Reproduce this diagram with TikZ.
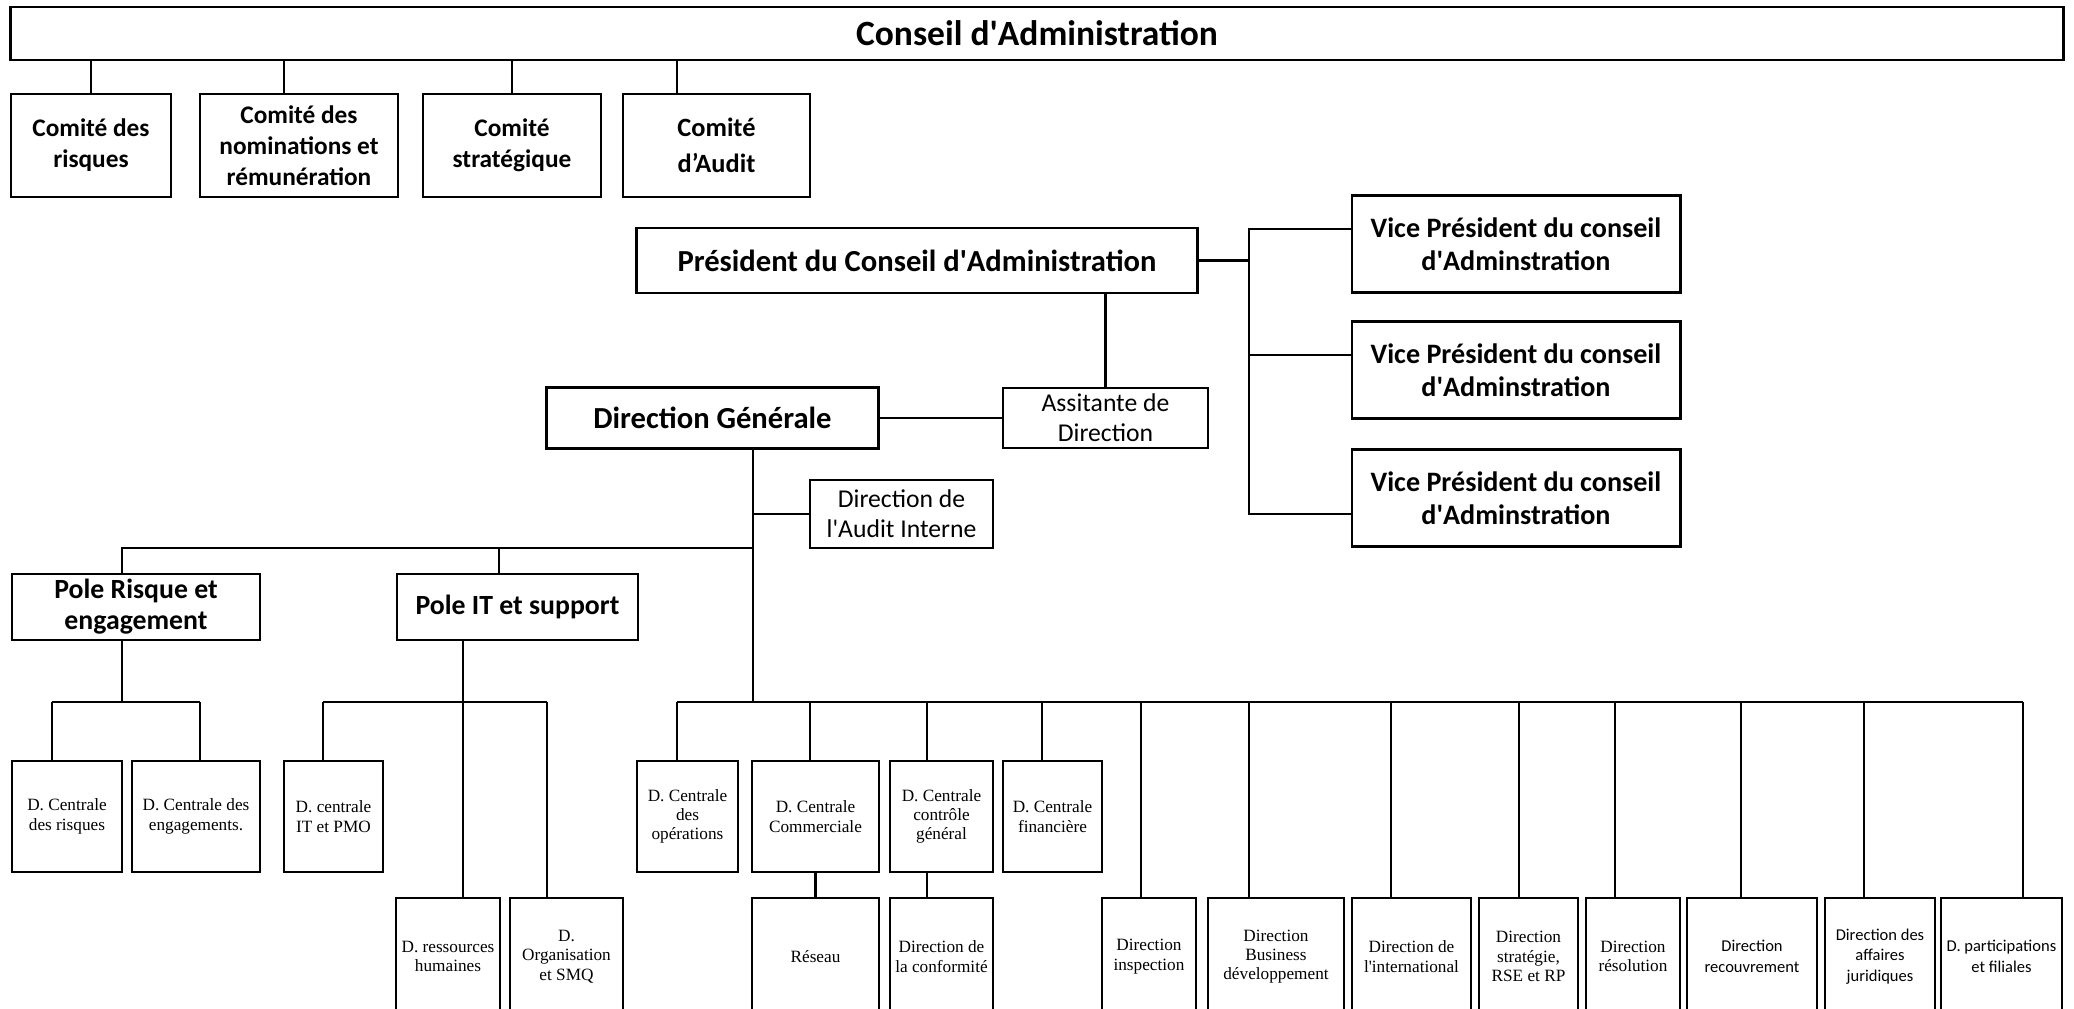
\documentclass[tikz,border=0pt]{standalone}
\usepackage{fontspec}
\setmainfont{Carlito}
\newfontfamily\serifbox{Liberation Serif}
\newcommand\rowser{\serifbox\fontsize{4.9}{5.5}\selectfont}
\newcommand\rowsans{\fontsize{4.7}{5.9}\selectfont}
\newcommand\ap{\textquotesingle}

\tikzset{
    box/.style={draw, line width=0.8pt, align=center, inner sep=0.5pt},
    sz/.style 2 args={minimum width=#1mm, minimum height=#2mm},
    lnk/.style={line width=0.65pt},
    tcons/.style={font=\bfseries\fontsize{10.1}{12}\selectfont},
    tpres/.style={font=\bfseries\fontsize{8.7}{10}\selectfont},
    tvp/.style={font=\bfseries\fontsize{8}{9.4}\selectfont},
    tpole/.style={font=\bfseries\fontsize{7.9}{8.8}\selectfont},
    tcom/.style={font=\bfseries\fontsize{7.2}{8.8}\selectfont},
    tnorm/.style={font=\fontsize{7.3}{8.5}\selectfont}
}

\begin{document}
\begin{tikzpicture}[x=0.01cm, y=-0.01cm]
    \useasboundingbox (0,0) rectangle (2074,1009);
    \clip (0,0) rectangle (2074,1009);

    % conseil et comites
    \node[box, sz={205.2}{5.3}, tcons] (cons) at (1037,33.5) {Conseil d\ap Administration};
    \node[box, sz={16}{10.3}, tcom] (com1) at (91,145.5) {Comité des\\risques};
    \node[box, sz={19.8}{10.3}, tcom] (com2) at (299,145.5) {Comité des\\nominations et\\rémunération};
    \node[box, sz={17.8}{10.3}, tcom] (com3) at (512,145.5) {Comité\\stratégique};
    \node[box, sz={18.7}{10.3}, font=\bfseries\fontsize{7.5}{10.2}\selectfont] (com4) at (716.5,145.5) {Comité\\d’Audit};
    \foreach \c/\s in {com1/0, com2/-1.5, com3/0, com4/-3.95} {
        \coordinate (k) at ([xshift=\s mm]\c.north);
        \draw[lnk] (k) -- (k |- cons.south);
    }

    % president et vice presidents
    \node[box, sz={56}{6.5}, tpres] (pres) at (917,260.5) {Président du Conseil d\ap Administration};
    \foreach \i/\y in {1/244, 2/370, 3/498}
        \node[box, sz={32.8}{9.7}, tvp] (vp\i) at (1516,\y) {Vice Président du conseil\\d\ap Adminstration};
    \coordinate (vb) at (1249,0);
    \coordinate (vb1) at ([yshift=0.15cm]vp1.west);
    \coordinate (vb2) at ([yshift=0.15cm]vp2.west);
    \coordinate (vb3) at ([yshift=-0.16cm]vp3.west);
    \draw[lnk] (pres.east) -- (pres.east -| vb);
    \draw[lnk] (vb1) -- (vb1 -| vb) -- (vb3 -| vb) -- (vb3);
    \draw[lnk] (vb2) -- (vb2 -| vb);

    % direction generale
    \node[box, sz={20.5}{6}, tnorm] (asst) at (1105.5,418) {Assitante de\\Direction};
    \node[box, sz={33.1}{6.1}, tpres] (dg) at (712.5,418) {Direction Générale};
    \node[box, sz={18.3}{6.8}, tnorm] (audit) at (901.5,514) {Direction de\\l\ap Audit Interne};
    \draw[lnk] (pres.south -| asst.north) -- (asst.north);
    \draw[lnk] (dg.east) -- (asst.west);
    \coordinate (dgx) at ([xshift=4.05mm]dg.south);
    \draw[lnk] (audit.west) -- (audit.west -| dgx);

    % poles
    \node[box, sz={24.8}{6.6}, tpole] (prisk) at (136,607) {Pole Risque et\\engagement};
    \node[box, sz={24.1}{6.6}, tpole] (pit) at (517.5,607) {Pole IT et support};
    \coordinate (pbar) at (753,548);
    \coordinate (pr) at ([xshift=-1.4mm]prisk.north);
    \coordinate (pi) at ([xshift=-1.85mm]pit.north);
    \draw[lnk] (pbar) -- (pbar -| pr) -- (pr);
    \draw[lnk] (pi) -- (pi |- pbar);

    % directions, premier rang
    \foreach \n/\x/\w/\f/\t in {
        dcr/67/11.0/\rowser/{D. Centrale\\des risques},
        dce/196/12.8/\rowser/{D. Centrale des\\engagements.},
        dit/333.5/9.9/\rowser/{D. centrale\\IT et PMO},
        ops/687.5/10.1/\rowser/{D. Centrale\\des\\opérations},
        com/815.5/12.7/\rowser/{D. Centrale\\Commerciale},
        ctl/941.5/10.3/\rowser/{D. Centrale\\contrôle\\général},
        fin/1052.5/9.9/\rowser/{D. Centrale\\financière}}
        \node[box, line width=0.75pt, sz={\w}{11.1}, font=\f] (\n) at (\x,816.5) {\t};

    % directions, second rang
    \foreach \n/\x/\w/\f/\t in {
        hr/448/10.4/\rowser/{D. ressources\\humaines},
        org/566.5/11.3/\rowser/{D.\\Organisation\\et SMQ},
        res/815.5/12.7/\rowser/{Réseau},
        conf/941.5/10.3/\rowser/{Direction de\\la conformité},
        insp/1149/9.4/\rowser/{Direction\\inspection},
        bus/1276/13.6/\rowser/{Direction\\Business\\développement},
        intl/1411.5/11.9/\rowser/{Direction de\\l\ap international},
        strat/1528.5/9.9/\rowser/{Direction\\stratégie,\\RSE et RP},
        reso/1633/9.4/\rowser/{Direction\\résolution},
        recv/1752/13.0/\rowsans/{Direction\\recouvrement},
        jur/1880/11.0/\rowsans/{Direction des\\affaires\\juridiques},
        part/2001.5/12.1/\rowsans/{D. participations\\et filiales}}
        \node[box, line width=0.75pt, sz={\w}{11.7}, font=\f] (\n) at (\x,956.5) {\t};

    % liaisons vers les directions
    \foreach \n/\d in {dcr/52, dce/200, dit/323, hr/463, org/547, ops/677, com/810, ctl/927,
                       fin/1042, insp/1141, bus/1249, intl/1391, strat/1519, reso/1615,
                       recv/1741, jur/1864, part/2023} {
        \coordinate (d-\n) at (\d,702);
        \draw[lnk] (d-\n) -- (d-\n |- \n.north);
    }
    \draw[lnk] (d-dcr) -- (d-dce);
    \draw[lnk] (d-dit) -- (d-org);
    \draw[lnk] (d-ops) -- (d-part);
    \coordinate (rb) at ([xshift=-1.4mm]prisk.south);
    \draw[lnk] (rb) -- (rb |- d-dcr);
    \coordinate (ib) at ([xshift=-5.45mm]pit.south);
    \draw[lnk] (ib) -- (ib |- d-hr);
    \draw[lnk] (dgx) -- (dgx |- d-ops);
    \draw[lnk] (com.south) -- (res.north);
    \coordinate (cc) at ([xshift=-1.45mm]ctl.south);
    \draw[lnk] (cc) -- (cc |- conf.north);
\end{tikzpicture}
\end{document}
